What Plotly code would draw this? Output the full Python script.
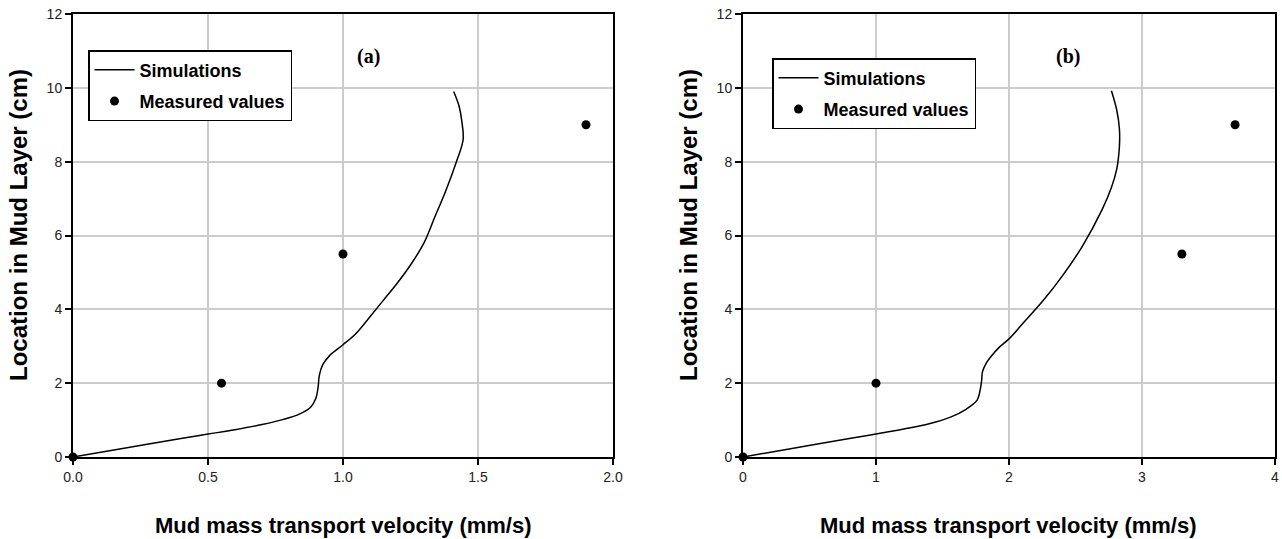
import plotly.graph_objects as go

W, H = 1282, 539

# ---- data ----
sim_a_x = [0, 0.2, 0.4, 0.5, 0.6, 0.7, 0.78, 0.84, 0.88, 0.9, 0.908, 0.912, 0.925, 0.952,
           1.0, 1.05, 1.1, 1.15, 1.2, 1.25, 1.30, 1.34, 1.38, 1.42, 1.445, 1.44, 1.43, 1.41]
sim_a_y = [0, 0.25, 0.5, 0.62, 0.74, 0.88, 1.02, 1.17, 1.35, 1.6, 1.9, 2.2, 2.5, 2.76,
           3.04, 3.36, 3.8, 4.25, 4.7, 5.2, 5.8, 6.5, 7.2, 8.0, 8.6, 9.1, 9.5, 9.9]
meas_a_x = [0, 0.55, 1.0, 1.9]
meas_a_y = [0, 2.0, 5.5, 9.0]

sim_b_x = [0, 0.4, 0.8, 1.0, 1.2, 1.4, 1.56, 1.68, 1.76, 1.785, 1.795, 1.80, 1.83, 1.86, 1.92,
           2.0, 2.1, 2.26, 2.4, 2.55, 2.70, 2.77, 2.81, 2.83, 2.83, 2.81, 2.77]
sim_b_y = [0, 0.25, 0.5, 0.62, 0.75, 0.9, 1.08, 1.3, 1.54, 1.85, 2.1, 2.3, 2.55, 2.7, 2.95,
           3.2, 3.6, 4.25, 4.9, 5.7, 6.7, 7.3, 7.8, 8.4, 8.9, 9.4, 9.92]
meas_b_x = [0, 1.0, 3.3, 3.7]
meas_b_y = [0, 2.0, 5.5, 9.0]

y_ticks = [0, 2, 4, 6, 8, 10, 12]
x_ticks_a = [0.0, 0.5, 1.0, 1.5, 2.0]
x_ticks_b = [0, 1, 2, 3, 4]

x_title = "Mud mass transport velocity (mm/s)"
y_title = "Location in Mud Layer (cm)"
panel_labels = ["(a)", "(b)"]


def px(x):
    return x / W


def py(y):
    return 1 - y / H


fig = go.Figure()

line_style = dict(color="black", width=1.5, shape="spline", smoothing=1.0)
marker_style = dict(color="black", size=9)

fig.add_trace(go.Scatter(x=sim_a_x, y=sim_a_y, mode="lines", name="<b>Simulations</b>",
                         line=line_style, xaxis="x", yaxis="y", legend="legend",
                         cliponaxis=False, legendgroup="a1"))
fig.add_trace(go.Scatter(x=meas_a_x, y=meas_a_y, mode="markers", name="<b>Measured values</b>",
                         marker=marker_style, xaxis="x", yaxis="y", legend="legend",
                         cliponaxis=False, legendgroup="a2"))
fig.add_trace(go.Scatter(x=sim_b_x, y=sim_b_y, mode="lines", name="<b>Simulations</b>",
                         line=line_style, xaxis="x2", yaxis="y2", legend="legend2",
                         cliponaxis=False, legendgroup="b1"))
fig.add_trace(go.Scatter(x=meas_b_x, y=meas_b_y, mode="markers", name="<b>Measured values</b>",
                         marker=marker_style, xaxis="x2", yaxis="y2", legend="legend2",
                         cliponaxis=False, legendgroup="b2"))

tickfont = dict(family="Liberation Sans, Arial", size=14, color="#222")
common_ax = dict(showline=True, linecolor="black", linewidth=2, mirror=True,
                 showgrid=True, gridcolor="#cccccc", gridwidth=1.5,
                 ticks="outside", ticklen=6, tickcolor="black", tickwidth=1.5,
                 tickfont=tickfont, zeroline=False, automargin=False,
                 ticklabeloverflow="allow")

legend_common = dict(xanchor="left", yanchor="top",
                     bgcolor="white", bordercolor="black", borderwidth=1.5,
                     font=dict(family="Liberation Sans, Arial", size=18, color="black"),
                     traceorder="grouped", tracegroupgap=5, itemwidth=40)

ytop, ybot = 14, 457
fig.update_layout(
    width=W, height=H,
    margin=dict(l=0, r=0, t=0, b=0, autoexpand=False),
    plot_bgcolor="white", paper_bgcolor="white",
    xaxis=dict(domain=[px(73), px(613)], range=[0, 2.0], tickvals=x_ticks_a,
               ticktext=[f"{v:.1f}" for v in x_ticks_a], anchor="y", **common_ax),
    yaxis=dict(domain=[py(ybot), py(ytop)], range=[0, 12], tickvals=y_ticks,
               anchor="x", **common_ax),
    xaxis2=dict(domain=[px(743), px(1275)], range=[0, 4], tickvals=x_ticks_b,
                anchor="y2", **common_ax),
    yaxis2=dict(domain=[py(ybot), py(ytop)], range=[0, 12], tickvals=y_ticks,
                anchor="x2", **common_ax),
    legend=dict(x=px(88), y=py(50), **legend_common),
    legend2=dict(x=px(772), y=py(58), **legend_common),
    showlegend=True,
)

ann = []
for cx in [343, 1009]:
    ann.append(dict(x=px(cx), y=py(525), xref="paper", yref="paper", text=f"<b>{x_title}</b>",
                    showarrow=False, font=dict(family="Liberation Sans, Arial", size=22, color="black"),
                    xanchor="center", yanchor="middle"))
for cx in [18, 688]:
    ann.append(dict(x=px(cx), y=py(225), xref="paper", yref="paper", text=f"<b>{y_title}</b>",
                    showarrow=False, textangle=-90,
                    font=dict(family="Liberation Sans, Arial", size=24, color="black"),
                    xanchor="center", yanchor="middle"))
for cx, lab in zip([368, 1068], panel_labels):
    ann.append(dict(x=px(cx), y=py(57), xref="paper", yref="paper", text=f"<b>{lab}</b>",
                    showarrow=False, font=dict(family="Liberation Serif, Times New Roman", size=20, color="black"),
                    xanchor="center", yanchor="middle"))
fig.update_layout(annotations=ann)

# remove the default 8px page margin so the figure fills the window exactly
fig.write_html("out.html", config={"displayModeBar": False},
               post_script="document.body.style.margin='0px';")
